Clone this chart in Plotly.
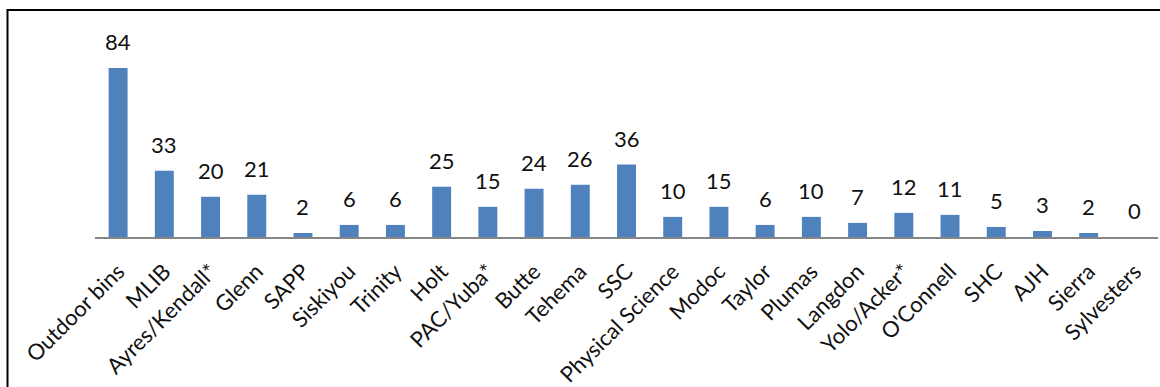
import plotly.graph_objects as go

# Item counts per location
locations = [
    "Outdoor bins", "MLIB", "Ayres/Kendall*", "Glenn", "SAPP", "Siskiyou",
    "Trinity", "Holt", "PAC/Yuba*", "Butte", "Tehema", "SSC",
    "Physical Science", "Modoc", "Taylor", "Plumas", "Langdon",
    "Yolo/Acker*", "O'Connell", "SHC", "AJH", "Sierra", "Sylvesters",
]
counts = [84, 33, 20, 21, 2, 6, 6, 25, 15, 24, 26, 36, 10, 15, 6, 10, 7, 12, 11, 5, 3, 2, 0]

BAR_COLOR = "#4F81BD"
TEXT_COLOR = "#111111"
FONT = "Lato, 'Open Sans', sans-serif"

W, H = 1160, 387
ML, MR, MT, MB = 95, 2, 56, 150

fig = go.Figure()
fig.add_trace(go.Bar(
    x=locations,
    y=counts,
    marker=dict(color=BAR_COLOR, line=dict(width=0)),
    width=0.41,
    hoverinfo="x+y",
))

# value labels above each bar
for name, v in zip(locations, counts):
    fig.add_annotation(
        x=name, y=v, xref="x", yref="y",
        text=str(v), showarrow=False,
        yanchor="bottom", yshift=11,
        font=dict(family=FONT, size=22, color=TEXT_COLOR),
    )

# frame around the chart area (continues past the right and bottom edges)
pw = W - ML - MR
ph = H - MT - MB
fig.add_shape(
    type="rect", xref="paper", yref="paper",
    x0=(7.5 - ML) / pw, x1=(W + 20 - ML) / pw,
    y0=-(H + 20 - (H - MB)) / ph, y1=((H - MB) - 10) / ph,
    line=dict(color="black", width=2),
    fillcolor="rgba(0,0,0,0)",
    layer="below",
)

fig.update_layout(
    width=W, height=H,
    margin=dict(l=ML, r=MR, t=MT, b=MB, autoexpand=False),
    paper_bgcolor="white",
    plot_bgcolor="white",
    showlegend=False,
    font=dict(family=FONT, size=22, color=TEXT_COLOR),
)
fig.update_xaxes(
    type="category",
    tickangle=-45,
    showline=True, linecolor="#868686", linewidth=2,
    showgrid=False,
    ticks="outside", ticklen=11, tickcolor="rgba(0,0,0,0)",
    automargin=False,
    tickfont=dict(family=FONT, size=22, color=TEXT_COLOR),
)
fig.update_yaxes(
    range=[0, 90],
    visible=False, showgrid=False, zeroline=False,
)

fig.write_html("out.html")
